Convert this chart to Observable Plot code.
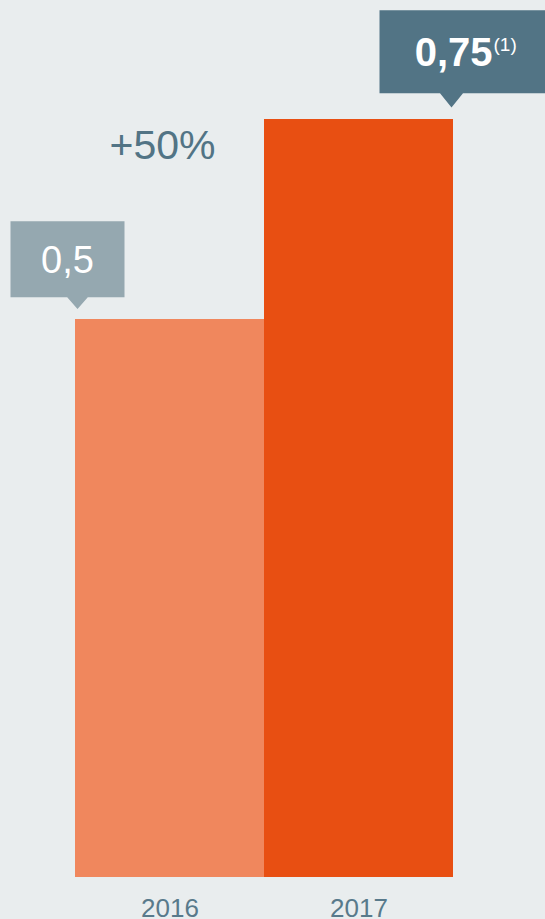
<!DOCTYPE html>
<html>
<head>
<meta charset="utf-8">
<script src="https://cdn.jsdelivr.net/npm/d3@7"></script>
<script src="https://cdn.jsdelivr.net/npm/@observablehq/plot@0.6"></script>
<style>
  html, body { margin: 0; padding: 0; background: #e9edee; }
  #chart svg { display: block; }
</style>
</head>
<body>
<div id="chart"></div>
<script>
// ---- data ----
const years = ["2016", "2017"];
const values = [0.5, 0.75];
const valueLabels = ["0,5", "0,75"];
const footnotes = ["", "(1)"];

const data = years.map((year, i) => ({year, value: values[i], label: valueLabels[i], note: footnotes[i]}));
const growth = [{
  year: years[0],
  value: values[1],
  label: "+" + Math.round((values[1] / values[0] - 1) * 100) + "%"
}];

// ---- styles ----
const FONT = "'Liberation Sans', Arial, Helvetica, sans-serif";
const barColors = ["#f0875d", "#e84f12"];
const boxColors = ["#95a8b0", "#527485"];
const textBlue = "#527485";
const axisBlue = "#587a8b";

// callout symbol: tip of pointer at origin
function callout(left, right, tipH, boxH, half) {
  return {
    draw(ctx) {
      ctx.moveTo(0, 0);
      ctx.lineTo(half, -tipH);
      ctx.lineTo(right, -tipH);
      ctx.lineTo(right, -tipH - boxH);
      ctx.lineTo(-left, -tipH - boxH);
      ctx.lineTo(-left, -tipH);
      ctx.lineTo(-half, -tipH);
      ctx.closePath();
    }
  };
}

const yFloor = -0.1975;
const first = data.filter(d => d.year === years[0]);
const second = data.filter(d => d.year === years[1]);

const chart = Plot.plot({
  width: 545,
  height: 919,
  marginLeft: 75,
  marginRight: 92,
  marginTop: 0,
  marginBottom: 42,
  style: {background: "#e9edee", fontFamily: FONT, overflow: "visible"},
  x: {domain: years, padding: 0, label: null},
  y: {domain: [yFloor, 0.75], range: [877, 119], axis: null},
  color: {domain: years, range: barColors},
  marks: [
    Plot.barY(data, {x: "year", y1: yFloor, y2: "value", fill: "year"}),
    // callout boxes
    Plot.dot(first, {x: "year", y: "value", dx: -92.5, dy: -10.5, r: 1,
      symbol: callout(67, 47, 11.7, 76, 10.3), fill: boxColors[0], stroke: null}),
    Plot.dot(second, {x: "year", y: "value", dx: 92.5, dy: -12, r: 1,
      symbol: callout(72, 100, 14.3, 83, 11.5), fill: boxColors[1], stroke: null}),
    // callout texts
    Plot.text(first, {x: "year", y: "value", text: "label", dx: -102.5, dy: -47,
      lineAnchor: "bottom", textAnchor: "middle", fill: "white", fontSize: 38}),
    Plot.text(second, {x: "year", y: "value", text: "label", dx: 133.5, dy: -54,
      lineAnchor: "bottom", textAnchor: "end", fill: "white", fontSize: 40, fontWeight: "bold"}),
    Plot.text(second, {x: "year", y: "value", text: "note", dx: 134.5, dy: -69,
      lineAnchor: "bottom", textAnchor: "start", fill: "white", fontSize: 19}),
    // growth annotation
    Plot.text(growth, {x: "year", y: "value", text: "label", dx: -7.5, dy: 39,
      lineAnchor: "bottom", textAnchor: "middle", fill: textBlue, fontSize: 41}),
    Plot.axisX({tickSize: 0, tickPadding: 21, fontSize: 26, fill: axisBlue, label: null})
  ]
});

document.getElementById("chart").appendChild(chart);
</script>
</body>
</html>
